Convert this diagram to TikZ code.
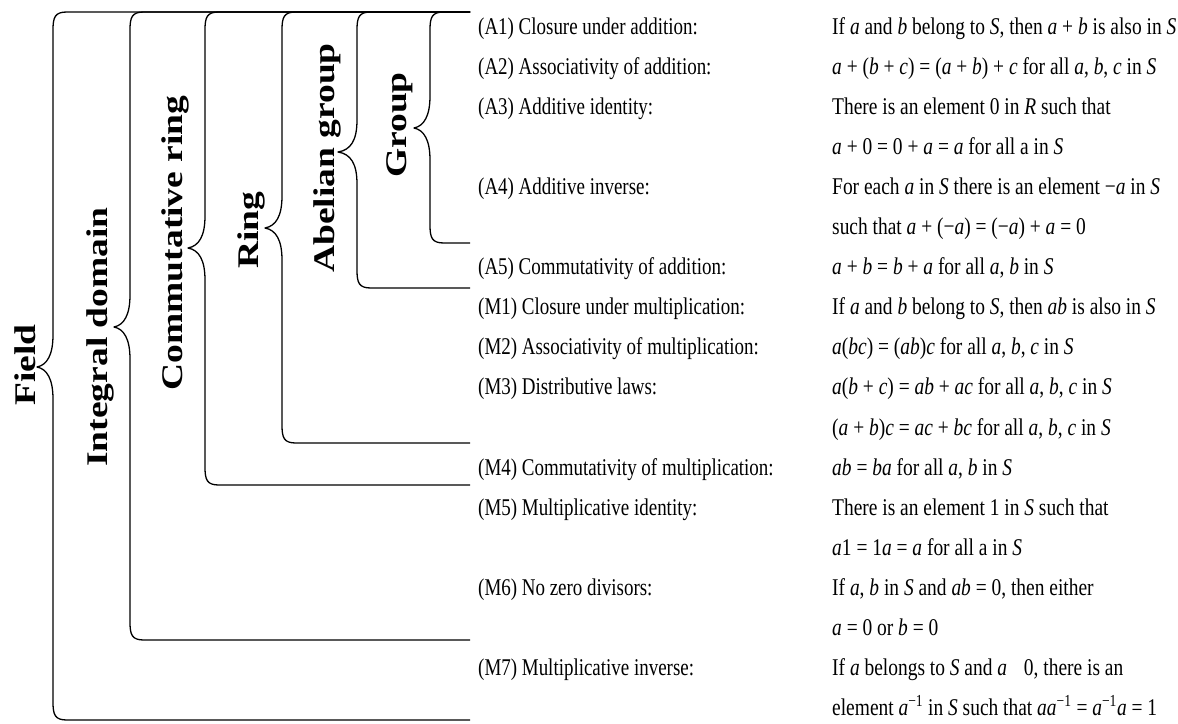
\documentclass[tikz,border=0pt]{standalone}
\usepackage{fontspec}
\setmainfont{Liberation Serif}
\newfontfamily\leftfont[FakeStretch=0.79]{Liberation Serif}
\newfontfamily\rightfont[FakeStretch=0.81]{Liberation Serif}
\newfontfamily\labfont[FakeStretch=1.25]{Liberation Serif}
\newcommand\itx[1]{\textit{#1}}
\newcommand\supm{\textsuperscript{−1}}
\newcommand\mybrace[5]{%
  \draw[bracestyle] (470,#2) -- ({#1+14},#2) .. controls ({#1+2},#2) and (#1,{#2+5}) .. (#1,{#2+18})
   -- (#1,{#3-32}) .. controls (#1,{#3-12}) and ({#1-6},{#3-2}) .. ({#1-#5},#3)
   .. controls ({#1-6},{#3+2}) and (#1,{#3+12}) .. (#1,{#3+32})
   -- (#1,{#4-18}) .. controls (#1,{#4-5}) and ({#1+2},#4) .. ({#1+14},#4) -- (470,#4);}
\begin{document}
\begin{tikzpicture}[x=1pt,y=-1pt,
  bracestyle/.style={draw=black,line width=1.3pt,line join=round},
  grouplabel/.style={rotate=90,inner sep=0pt,font=\labfont\bfseries\fontsize{30}{34}\selectfont},
  axtext/.style={anchor=base west,inner sep=0pt,font=\leftfont\fontsize{24}{28}\selectfont},
  deftext/.style={anchor=base west,inner sep=0pt,font=\rightfont\fontsize{24}{28}\selectfont}]
\useasboundingbox[fill=white] (0,0) rectangle (1178,723);
% braces
\mybrace{53}{12}{367}{720}{16}
\mybrace{130}{12}{327}{640}{16}
\mybrace{205}{12}{248}{485}{17}
\mybrace{282}{12}{228}{443}{17}
\mybrace{357}{12}{152}{288}{19}
\mybrace{430}{12}{128}{243}{16}
% labels
\node[grouplabel] (field) at (25,365) {Field};
\node[grouplabel] (intdom) at (100,337) {Integral domain};
\node[grouplabel] (commring) at (175,243) {Commutative ring};
\node[grouplabel] (ring) at (251,230) {Ring};
\node[grouplabel] (abel) at (327,158) {Abelian group};
\node[grouplabel] (group) at (400,125) {Group};
% axiom names
\foreach \k/\t [count=\i] in {0/{(A1) Closure under addition:},1/{(A2) Associativity of addition:},2/{(A3) Additive identity:},4/{(A4) Additive inverse:},6/{(A5) Commutativity of addition:},7/{(M1) Closure under multiplication:},8/{(M2) Associativity of multiplication:},9/{(M3) Distributive laws:},11/{(M4) Commutativity of multiplication:},12/{(M5) Multiplicative identity:},14/{(M6) No zero divisors:},16/{(M7) Multiplicative inverse:}}
  \node[axtext] (ax\i) at (478,{34+40.1*\k}) {\t};
% definitions
\foreach \k/\t in {
 0/{If \itx{a} and \itx{b} belong to \itx{S}, then \itx{a} + \itx{b} is also in \itx{S}},
 1/{\itx{a} + (\itx{b} + \itx{c}) = (\itx{a} + \itx{b}) + \itx{c} for all \itx{a}, \itx{b}, \itx{c} in \itx{S}},
 2/{There is an element 0 in \itx{R} such that},
 3/{\itx{a} + 0 = 0 + \itx{a} = \itx{a} for all a in \itx{S}},
 4/{For each \itx{a} in \itx{S} there is an element −\itx{a} in \itx{S}},
 5/{such that \itx{a} + (−\itx{a}) = (−\itx{a}) + \itx{a} = 0},
 6/{\itx{a} + \itx{b} = \itx{b} + \itx{a} for all \itx{a}, \itx{b} in \itx{S}},
 7/{If \itx{a} and \itx{b} belong to \itx{S}, then \itx{ab} is also in \itx{S}},
 8/{\itx{a}(\itx{bc}) = (\itx{ab})\itx{c} for all \itx{a}, \itx{b}, \itx{c} in \itx{S}},
 9/{\itx{a}(\itx{b} + \itx{c}) = \itx{ab} + \itx{ac} for all \itx{a}, \itx{b}, \itx{c} in \itx{S}},
 10/{(\itx{a} + \itx{b})\itx{c} = \itx{ac} + \itx{bc} for all \itx{a}, \itx{b}, \itx{c} in \itx{S}},
 11/{\itx{ab} = \itx{ba} for all \itx{a}, \itx{b} in \itx{S}},
 12/{There is an element 1 in \itx{S} such that},
 13/{\itx{a}1 = 1\itx{a} = \itx{a} for all a in \itx{S}},
 14/{If \itx{a}, \itx{b} in \itx{S} and \itx{ab} = 0, then either},
 15/{\itx{a} = 0 or \itx{b} = 0},
 16/{If \itx{a} belongs to \itx{S} and \itx{a}\hspace{0.7em}0, there is an},
 17/{element \itx{a}\supm{} in \itx{S} such that \itx{aa}\supm{} = \itx{a}\supm\itx{a} = 1}}
  \node[deftext] (def\k) at (832,{34+40.1*\k}) {\t};
\end{tikzpicture}
\end{document}
